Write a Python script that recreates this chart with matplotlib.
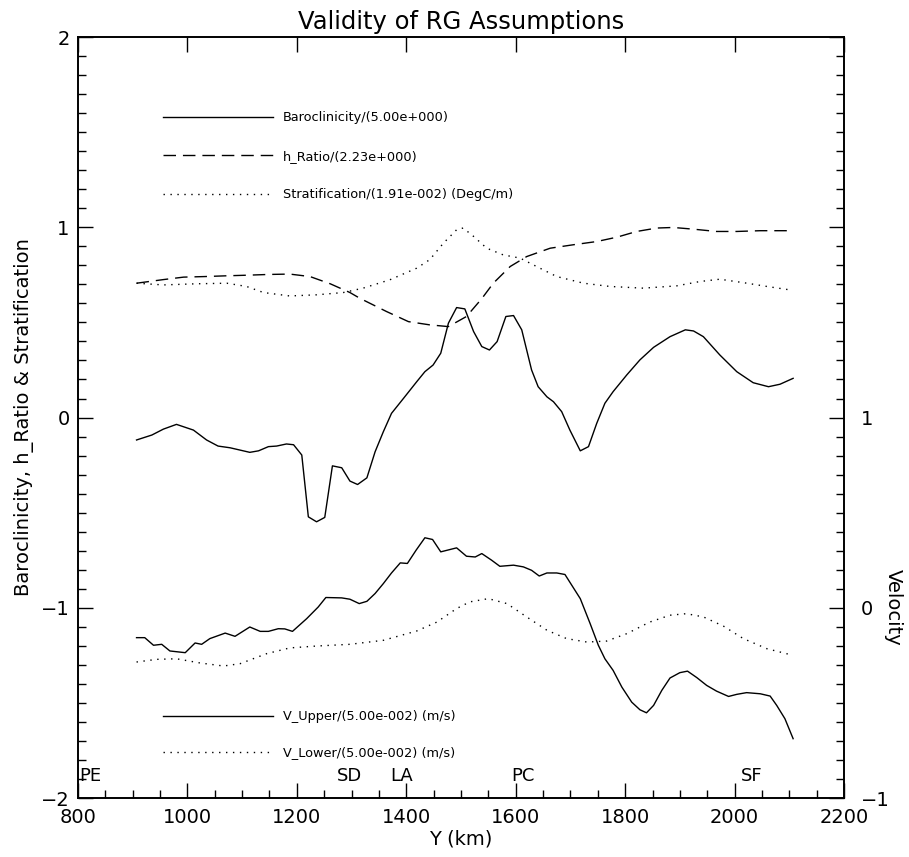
"""Plot the RG validity diagnostics along the coastal transect.

Baroclinicity, h_Ratio and stratification are shown normalised on the left
axis; upper and lower layer velocities are shown on a twin right axis.
"""
import matplotlib

matplotlib.use("Agg")
import matplotlib.pyplot as plt
from matplotlib.ticker import MultipleLocator

# Baroclinicity / 5.00
baro_y = [907, 935, 956, 980, 1011, 1035, 1056, 1078, 1114, 1130, 1148, 1163,
          1181, 1194, 1209, 1221, 1236, 1251, 1265, 1282, 1297, 1311, 1328,
          1343, 1358, 1373, 1395, 1419, 1434, 1449, 1463, 1477, 1492, 1507,
          1523, 1538, 1552, 1566, 1582, 1596, 1611, 1629, 1641, 1657, 1669,
          1684, 1699, 1718, 1733, 1748, 1763, 1778, 1803, 1827, 1852, 1882,
          1910, 1925, 1943, 1973, 2004, 2034, 2062, 2083, 2107]
baro_val = [-0.118, -0.092, -0.061, -0.036, -0.066, -0.118, -0.150, -0.159,
            -0.183, -0.175, -0.153, -0.150, -0.139, -0.143, -0.197, -0.522,
            -0.548, -0.525, -0.254, -0.264, -0.334, -0.352, -0.317, -0.180,
            -0.075, 0.022, 0.101, 0.188, 0.241, 0.276, 0.338, 0.496, 0.578,
            0.571, 0.452, 0.373, 0.355, 0.399, 0.531, 0.536, 0.461, 0.250,
            0.162, 0.109, 0.083, 0.031, -0.066, -0.175, -0.153, -0.031, 0.075,
            0.136, 0.224, 0.303, 0.369, 0.425, 0.461, 0.455, 0.425, 0.329,
            0.241, 0.183, 0.162, 0.175, 0.206]

# h_Ratio / 2.23
hratio_y = [907, 956, 993, 1032, 1072, 1108, 1148, 1187, 1224, 1261, 1297,
            1315, 1364, 1404, 1443, 1477, 1510, 1538, 1559, 1590, 1620, 1663,
            1705, 1748, 1785, 1821, 1858, 1888, 1925, 1967, 2004, 2047, 2089,
            2105]
hratio_val = [0.706, 0.725, 0.738, 0.741, 0.745, 0.748, 0.752, 0.754, 0.741,
              0.703, 0.657, 0.627, 0.557, 0.504, 0.487, 0.478, 0.531, 0.625,
              0.706, 0.794, 0.846, 0.890, 0.908, 0.925, 0.948, 0.978, 0.996,
              0.999, 0.990, 0.978, 0.978, 0.982, 0.982, 0.982]

# Stratification / 1.91e-2 (DegC/m)
strat_y = [907, 956, 1017, 1072, 1108, 1139, 1187, 1236, 1285, 1321, 1370,
           1419, 1443, 1468, 1492, 1504, 1523, 1547, 1577, 1608, 1638, 1675,
           1724, 1772, 1833, 1894, 1937, 1973, 2016, 2059, 2101]
strat_val = [0.706, 0.697, 0.703, 0.706, 0.689, 0.657, 0.639, 0.645, 0.657,
             0.680, 0.724, 0.785, 0.830, 0.917, 0.987, 0.996, 0.952, 0.890,
             0.855, 0.838, 0.794, 0.741, 0.706, 0.689, 0.680, 0.692, 0.715,
             0.727, 0.709, 0.689, 0.671]

# V_Upper / 5.00e-2 (m/s)
vup_y = [907, 922, 938, 953, 968, 996, 1014, 1026, 1041, 1069, 1087, 1114,
         1133, 1148, 1166, 1178, 1192, 1218, 1239, 1253, 1282, 1297, 1314,
         1328, 1343, 1358, 1373, 1389, 1402, 1418, 1434, 1448, 1463, 1492,
         1510, 1526, 1538, 1556, 1571, 1596, 1614, 1629, 1643, 1657, 1675,
         1690, 1718, 1736, 1751, 1763, 1778, 1794, 1812, 1827, 1839, 1852,
         1867, 1882, 1900, 1914, 1931, 1949, 1967, 1989, 2004, 2022, 2047,
         2065, 2077, 2092, 2107]
vup_val = [-0.157, -0.157, -0.197, -0.192, -0.227, -0.236, -0.185, -0.192,
           -0.162, -0.133, -0.150, -0.101, -0.124, -0.124, -0.110, -0.111,
           -0.124, -0.057, 0.004, 0.054, 0.052, 0.045, 0.022, 0.034, 0.075,
           0.127, 0.183, 0.236, 0.233, 0.303, 0.368, 0.359, 0.294, 0.315,
           0.271, 0.267, 0.285, 0.250, 0.218, 0.224, 0.215, 0.197, 0.167,
           0.183, 0.183, 0.175, 0.048, -0.083, -0.197, -0.268, -0.329, -0.417,
           -0.496, -0.536, -0.552, -0.513, -0.434, -0.369, -0.341, -0.333,
           -0.367, -0.408, -0.438, -0.466, -0.455, -0.446, -0.452, -0.464,
           -0.513, -0.583, -0.688]

# V_Lower / 5.00e-2 (m/s)
vlow_y = [907, 944, 980, 1023, 1066, 1096, 1145, 1187, 1236, 1297, 1358,
          1419, 1456, 1492, 1516, 1550, 1584, 1620, 1657, 1693, 1730, 1766,
          1803, 1845, 1882, 1912, 1943, 1980, 2016, 2059, 2107]
vlow_val = [-0.285, -0.271, -0.268, -0.290, -0.306, -0.294, -0.241, -0.211,
            -0.201, -0.192, -0.171, -0.122, -0.075, -0.004, 0.031, 0.048,
            0.022, -0.048, -0.118, -0.162, -0.180, -0.175, -0.136, -0.075,
            -0.039, -0.031, -0.048, -0.097, -0.162, -0.215, -0.250]

# Coastal reference points along the transect
station_names = ["PE", "SD", "LA", "PC", "SF"]
station_pos = [803, 1297, 1392, 1613, 2032]

DOTTED = (0, (1, 4))
DASHED = (0, (9, 5))


def style_axis(ax):
    ax.xaxis.set_major_locator(MultipleLocator(200))
    ax.xaxis.set_minor_locator(MultipleLocator(50))
    ax.yaxis.set_minor_locator(MultipleLocator(0.1))
    ax.tick_params(which="both", direction="in", width=1.0, labelsize=14)
    ax.tick_params(which="major", length=11)
    ax.tick_params(which="minor", length=6)
    for spine in ax.spines.values():
        spine.set_linewidth(1.2)


fig = plt.figure(figsize=(9.09, 8.57), dpi=100)
ax = fig.add_axes([0.0858, 0.0688, 0.8427, 0.888])
ax2 = ax.twinx()

ax.plot(baro_y, baro_val, color="black", lw=1.0,
        label="Baroclinicity/(5.00e+000)")
ax.plot(hratio_y, hratio_val, color="black", lw=1.0, linestyle=DASHED,
        label="h_Ratio/(2.23e+000)")
ax.plot(strat_y, strat_val, color="black", lw=1.0, linestyle=DOTTED,
        label="Stratification/(1.91e-002) (DegC/m)")

ax2.plot(vup_y, vup_val, color="black", lw=1.0,
         label="V_Upper/(5.00e-002) (m/s)")
ax2.plot(vlow_y, vlow_val, color="black", lw=1.0, linestyle=DOTTED,
         label="V_Lower/(5.00e-002) (m/s)")

ax.set_xlim(800, 2200)
ax.set_ylim(-2, 2)
ax.set_yticks([-2, -1, 0, 1, 2])
ax2.set_ylim(-1, 3)
ax2.set_yticks([-1, 0, 1, 2, 3])
ax2.set_yticklabels(["\u22121", "0", "1", "", ""])

style_axis(ax)
style_axis(ax2)
ax.tick_params(top=True, right=False, labelright=False)
ax.tick_params(axis="x", pad=7)
ax.tick_params(axis="y", pad=6)
ax2.tick_params(axis="y", pad=12)

ax.set_title("Validity of RG Assumptions", fontsize=17.5, pad=6)
ax.set_xlabel("Y (km)", fontsize=14, labelpad=2)
ax.set_ylabel("Baroclinicity, h_Ratio & Stratification", fontsize=14,
              labelpad=5)
ax2.set_ylabel("Velocity", fontsize=14, rotation=270, va="center",
               ha="center")
ax2.yaxis.set_label_coords(1.064, 0.251)

for name, pos in zip(station_names, station_pos):
    ax.text(pos, -1.91, name, fontsize=13,
            ha="left" if name == "PE" else "center", va="baseline")

leg_kw = dict(frameon=False, fontsize=9.3, handlelength=8.5,
              handletextpad=0.78, borderpad=0, borderaxespad=0,
              loc="upper left")
ax.legend(bbox_to_anchor=(0.111, 0.9024), labelspacing=1.97, **leg_kw)
ax2.legend(bbox_to_anchor=(0.111, 0.1154), labelspacing=1.78, **leg_kw)

fig.savefig("out.png", dpi=100)
